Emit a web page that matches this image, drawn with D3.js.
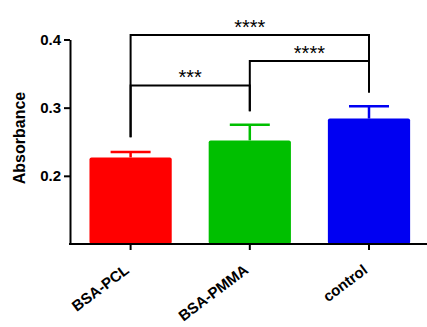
<!DOCTYPE html>
<meta charset="utf-8">
<title>Absorbance bar chart</title>
<style>
  body { margin: 0; background: #fff; }
  text { font-family: "Liberation Sans", Arial, sans-serif; }
  .axis path, .axis line { stroke: #000; stroke-width: 2px; }
  .axis text { font-weight: bold; font-size: 15px; fill: #000; }
  .xlabel text { font-weight: bold; font-size: 15px; fill: #000; }
  .bracket { fill: none; stroke: #000; stroke-width: 2px; }
</style>
<body>
<script src="https://d3js.org/d3.v7.min.js"></script>
<script>

var width = 427,
    height = 327;

// data
var groups = ["BSA-PCL", "BSA-PMMA", "control"];
var means = [0.227, 0.252, 0.284];
var errors = [0.008, 0.023, 0.018];
var colors = ["#ff0000", "#00bf00", "#0000f2"];
var yTicks = [0.2, 0.3, 0.4];

// significance brackets: [left group, right group, line level, left leg end, right leg end, stars]
var brackets = [
  ["BSA-PCL", "control", 0.4066, 0.2566, 0.3223, "****"],
  ["BSA-PMMA", "control", 0.3686, 0.2946, 0.3223, "****"],
  ["BSA-PCL", "BSA-PMMA", 0.3326, 0.2566, 0.2946, "***"]
];

var svg = d3.select("body").append("svg")
  .attr("width", width)
  .attr("height", height);

var x = d3.scaleBand()
  .domain(groups)
  .range([71, 428.6])
  .paddingInner(0.31)
  .paddingOuter(0.155);

var y = d3.scaleLinear()
  .domain([0.1, 0.4])
  .range([244, 39.5]);

function cx(g) { return x(g) + x.bandwidth() / 2; }

// bars
svg.selectAll(".bar")
  .data(groups)
  .enter().append("rect")
  .attr("class", "bar")
  .attr("x", function(d) { return x(d); })
  .attr("width", x.bandwidth())
  .attr("y", function(d, i) { return y(means[i]); })
  .attr("height", function(d, i) { return y(0.1) - y(means[i]); })
  .attr("rx", 2)
  .attr("fill", function(d, i) { return colors[i]; });

// error bars (upper only)
var err = svg.selectAll(".err")
  .data(groups)
  .enter().append("g")
  .attr("class", "err")
  .attr("stroke", function(d, i) { return colors[i]; })
  .attr("stroke-width", 2.5);

err.append("line")
  .attr("x1", cx).attr("x2", cx)
  .attr("y1", function(d, i) { return y(means[i]); })
  .attr("y2", function(d, i) { return y(means[i] + errors[i]); });

err.append("line")
  .attr("x1", function(d) { return cx(d) - 20; })
  .attr("x2", function(d) { return cx(d) + 20; })
  .attr("y1", function(d, i) { return y(means[i] + errors[i]); })
  .attr("y2", function(d, i) { return y(means[i] + errors[i]); });

// axes
svg.append("g")
  .attr("class", "axis")
  .attr("transform", "translate(70,0)")
  .call(d3.axisLeft(y).tickValues(yTicks).tickFormat(d3.format(".1f"))
    .tickSize(6).tickSizeOuter(0).tickPadding(3));

var xAxis = svg.append("g")
  .attr("class", "axis")
  .attr("transform", "translate(0," + y(0.1) + ")")
  .call(d3.axisBottom(x).tickSize(6).tickSizeOuter(0).tickFormat(""));

xAxis.select(".domain").attr("d", "M69,0H427");

// rotated group labels
var lab = svg.selectAll(".xlabel")
  .data(groups)
  .enter().append("g")
  .attr("class", "xlabel")
  .attr("transform", function(d) {
    return "translate(" + (cx(d) - 0.5) + "," + (y(0.1) + 28) + ")";
  });

lab.append("g")
  .attr("transform", "rotate(-37)")
  .append("text")
  .attr("text-anchor", "end")
  .text(function(d) { return d; });

// y label
svg.append("text")
  .attr("transform", "translate(25,138) rotate(-90)")
  .attr("text-anchor", "middle")
  .style("font-weight", "bold")
  .style("font-size", "16px")
  .text("Absorbance");

// brackets
brackets.forEach(function(b) {
  var x1 = cx(b[0]), x2 = cx(b[1]);
  svg.append("path")
    .attr("class", "bracket")
    .attr("d", "M" + x1 + "," + y(b[3]) + "V" + y(b[2]) + "H" + x2 + "V" + y(b[4]));
  svg.append("text")
    .attr("x", (x1 + x2) / 2)
    .attr("y", y(b[2]) - 1)
    .attr("text-anchor", "middle")
    .style("font-size", "20px")
    .text(b[5]);
});

</script>
</body>
